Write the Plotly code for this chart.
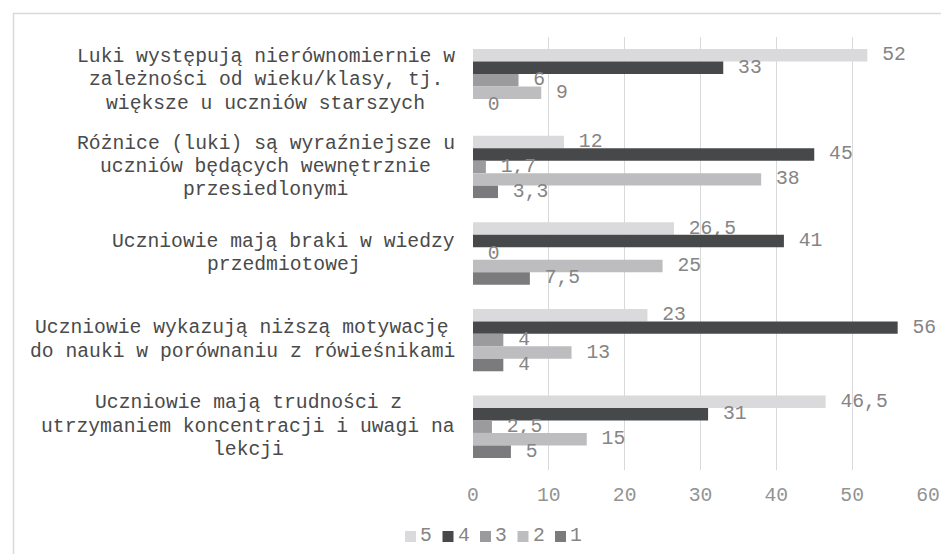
import plotly.graph_objects as go

categories = [
    "Luki występują nierównomiernie w<br>zależności od wieku/klasy, tj.<br>większe u uczniów starszych",
    "Różnice (luki) są wyraźniejsze u<br>uczniów będących wewnętrznie<br>przesiedlonymi",
    "Uczniowie mają braki w wiedzy<br>przedmiotowej",
    "Uczniowie wykazują niższą motywację<br>do nauki w porównaniu z rówieśnikami",
    "Uczniowie mają trudności z<br>utrzymaniem koncentracji i uwagi na<br>lekcji",
]
series_names = ["5", "4", "3", "2", "1"]
values_5 = [52, 12, 26.5, 23, 46.5]
values_4 = [33, 45, 41, 56, 31]
values_3 = [6, 1.7, 0, 4, 2.5]
values_2 = [9, 38, 25, 13, 15]
values_1 = [0, 3.3, 7.5, 4, 5]
series_values = [values_5, values_4, values_3, values_2, values_1]
colors = ["#DADADC", "#47484A", "#9B9B9D", "#BDBDBF", "#7B7B7D"]
x_ticks = [0, 10, 20, 30, 40, 50, 60]

FONT = "Liberation Mono, Courier New, monospace"
FS = 19.7
CHAR_W = FS * 0.6
LINE_H = 23.3
W, H = 949, 554
L, R, T, B = 465, 29, 29, 92
PW, PH = W - L - R, H - T - B


def px_x(p):
    return (p - L) / PW


def px_y(p):
    return 1 - (p - T) / PH


def fmt(v):
    return " " + f"{v:g}".replace(".", ",")


fig = go.Figure()
for name, vals, col in zip(series_names, series_values, colors):
    fig.add_trace(go.Bar(
        y=categories, x=vals, name=name, orientation="h",
        marker=dict(color=col, line=dict(width=0)),
        text=[fmt(v) for v in vals], textposition="outside",
        textfont=dict(family=FONT, size=FS, color="#858585"),
        constraintext="none", cliponaxis=False, showlegend=False,
    ))

annotations = []
LABEL_RIGHT = 447
for c in categories:
    lines = c.split("<br>")
    n = len(lines)
    block_w = max(len(s) for s in lines) * CHAR_W
    cx = LABEL_RIGHT - block_w / 2
    for i, line in enumerate(lines):
        annotations.append(dict(
            x=px_x(cx), xref="paper", y=c, yref="y", text=line,
            xanchor="center", yanchor="middle", showarrow=False,
            yshift=-(i - (n - 1) / 2) * LINE_H,
            font=dict(family=FONT, size=FS, color="#4A4A4A"),
        ))

shapes = []
for i, (name, col) in enumerate(zip(series_names, colors)):
    x0 = 397 + 37.5 * i
    shapes.append(dict(type="rect", xref="paper", yref="paper",
                       x0=px_x(x0), x1=px_x(x0 + 11), y0=px_y(534), y1=px_y(523),
                       fillcolor=col, line=dict(width=0)))
    annotations.append(dict(
        x=px_x(x0 + 13), xref="paper", y=px_y(528), yref="paper", text=name,
        xanchor="left", yanchor="middle", showarrow=False,
        font=dict(family=FONT, size=FS, color="#858585"),
    ))

# outer chart border (top and left visible)
shapes.append(dict(type="path", xref="paper", yref="paper",
                   path=f"M {px_x(5.5)},{px_y(560)} L {px_x(5.5)},{px_y(5.5)} L {px_x(960)},{px_y(5.5)}",
                   line=dict(color="#D9D9D9", width=1.5)))

fig.update_layout(
    width=W, height=H,
    margin=dict(l=L, r=R, t=T, b=B, pad=0),
    paper_bgcolor="white", plot_bgcolor="white",
    barmode="group", bargap=0.28, bargroupgap=0,
    font=dict(family=FONT, size=FS, color="#858585"),
    xaxis=dict(range=[0, 60], tickvals=x_ticks, showgrid=True, gridcolor="#D9D9D9",
               gridwidth=1.3, zeroline=False, showline=False, ticks="",
               ticklabelstandoff=10,
               tickfont=dict(family=FONT, size=FS, color="#939393")),
    yaxis=dict(autorange="reversed", showticklabels=False, showgrid=False,
               zeroline=False, showline=False, ticks=""),
    annotations=annotations, shapes=shapes, showlegend=False,
)

fig.write_html("out.html")
